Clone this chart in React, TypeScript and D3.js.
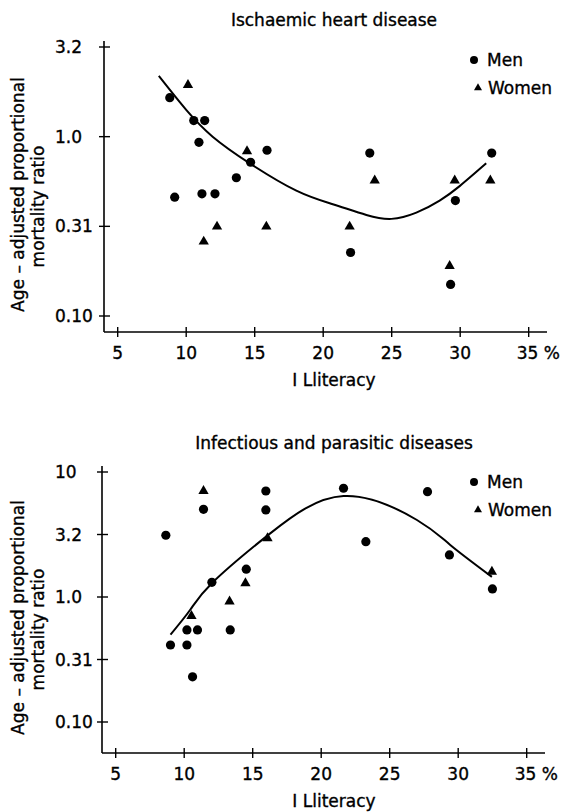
import React from "react";
import * as d3 from "d3";

// ---------- Data ----------
const xTicks = [5, 10, 15, 20, 25, 30, 35];

const ihdYTicks = [0.1, 0.3162, 1.0, 3.162];
const ihdYTickLabels = ["0.10", "0.31", "1.0", "3.2"];

const ihdMen: [number, number][] = [
  [8.8, 1.65], [10.55, 1.23], [11.35, 1.23], [10.93, 0.93], [15.9, 0.84],
  [14.7, 0.72], [13.66, 0.59], [9.16, 0.46], [11.15, 0.48], [12.1, 0.48],
  [22.0, 0.226], [23.4, 0.81], [29.65, 0.44], [29.3, 0.15], [32.3, 0.81],
];
const ihdWomen: [number, number][] = [
  [10.13, 1.94], [14.44, 0.83], [12.25, 0.315], [15.85, 0.315], [11.28, 0.26],
  [21.93, 0.315], [23.76, 0.57], [29.6, 0.57], [29.23, 0.19], [32.2, 0.57],
];
const ihdCurve: [number, number][] = [
  [8.0, 2.18], [10.0, 1.41], [11.93, 1.0], [14.64, 0.71], [18.04, 0.5],
  [20.7, 0.42], [23.15, 0.366], [24.98, 0.348], [26.8, 0.377], [28.5, 0.44],
  [29.96, 0.53], [31.9, 0.71],
];

const infYTicks = [0.1, 0.3162, 1.0, 3.162, 10];
const infYTickLabels = ["0.10", "0.31", "1.0", "3.2", "10"];

const infMen: [number, number][] = [
  [15.96, 7.05], [11.41, 5.03], [15.96, 4.97], [8.66, 3.12], [14.53, 1.67],
  [12.02, 1.31], [10.2, 0.545], [10.97, 0.545], [13.36, 0.545], [9.0, 0.413],
  [10.2, 0.413], [10.61, 0.23], [21.63, 7.41], [27.76, 6.96], [23.26, 2.77],
  [29.36, 2.17], [32.5, 1.16],
];
const infWomen: [number, number][] = [
  [11.41, 7.05], [16.08, 2.95], [14.47, 1.29], [13.31, 0.92], [10.53, 0.705],
  [32.46, 1.59],
];
const infCurve: [number, number][] = [
  [9.0, 0.5], [10.44, 0.79], [12.02, 1.29], [16.28, 3.23], [21.63, 6.43],
  [26.99, 4.13], [29.42, 2.61], [32.46, 1.45],
];

const FONT = "'DejaVu Sans', sans-serif";
const FS = 17;

type PanelProps = {
  title: string;
  titleY: number;
  axisX: number;
  axisTop: number;
  axisBottom: number;
  axisRight: number;
  yDomain: [number, number];
  yRange: [number, number];
  yTicks: number[];
  yTickLabels: string[];
  men: [number, number][];
  women: [number, number][];
  curve: [number, number][];
  legendY: number;
};

function Panel(p: PanelProps) {
  const x = d3.scaleLinear().domain([4, 36.3]).range([p.axisX, p.axisX + 442.5]);
  const y = d3.scaleLog().domain(p.yDomain).range(p.yRange);
  const line = d3
    .line<[number, number]>()
    .x((d) => x(d[0]))
    .y((d) => y(d[1]))
    .curve(d3.curveNatural);
  const tri = d3.symbol().type(d3.symbolTriangle).size(46)()!;
  const triSmall = d3.symbol().type(d3.symbolTriangle).size(28)()!;
  const cx = 334;
  return (
    <g fontFamily={FONT} fontSize={FS} fill="#000">
      <g stroke="#000" strokeWidth={0.35}>
        <text x={cx} y={p.titleY} textAnchor="middle" dominantBaseline="central">
          {p.title}
        </text>
        {p.yTicks.map((t, i) => (
          <text key={"ytl" + i} x={55} y={y(t)} dominantBaseline="central">
            {p.yTickLabels[i]}
          </text>
        ))}
        {xTicks.map((t, i) =>
          i === xTicks.length - 1 ? (
            <text key={"xtl" + i} x={x(t) - 12} y={p.axisBottom + 21} dominantBaseline="central">
              {t + " %"}
            </text>
          ) : (
            <text key={"xtl" + i} x={x(t)} y={p.axisBottom + 21} textAnchor="middle" dominantBaseline="central">
              {t}
            </text>
          )
        )}
        <text x={cx} y={p.axisBottom + 48} textAnchor="middle" dominantBaseline="central">
          I Lliteracy
        </text>
        <g transform={`translate(0, ${(p.axisTop + p.axisBottom) / 2 + 8}) rotate(-90)`}>
          <text x={0} y={24} textAnchor="middle">
            Age – adjusted proportional
          </text>
          <text x={-12} y={44} textAnchor="middle">
            mortality ratio
          </text>
        </g>
        <text x={487} y={p.legendY} dominantBaseline="central">Men</text>
        <text x={488} y={p.legendY + 28} dominantBaseline="central">Women</text>
      </g>
      {/* axes */}
      <line x1={p.axisX} x2={p.axisX} y1={p.axisTop} y2={p.axisBottom} stroke="#000" strokeWidth={1.6} />
      <line x1={p.axisX} x2={p.axisRight} y1={p.axisBottom} y2={p.axisBottom} stroke="#000" strokeWidth={1.6} />
      {p.yTicks.map((t, i) => (
        <line key={"yt" + i} x1={p.axisX - 5} x2={p.axisX + 6} y1={y(t)} y2={y(t)} stroke="#000" strokeWidth={1.4} />
      ))}
      {xTicks.map((t, i) => (
        <line key={"xt" + i} x1={x(t)} x2={x(t)} y1={p.axisBottom - 5} y2={p.axisBottom + 5} stroke="#000" strokeWidth={1.4} />
      ))}
      {/* curve */}
      <path d={line(p.curve)!} fill="none" stroke="#000" strokeWidth={2} />
      {/* points */}
      {p.men.map((d, i) => (
        <circle key={"m" + i} cx={x(d[0])} cy={y(d[1])} r={4.6} fill="#000" />
      ))}
      {p.women.map((d, i) => (
        <path key={"w" + i} d={tri} transform={`translate(${x(d[0])},${y(d[1])})`} fill="#000" />
      ))}
      {/* legend markers */}
      <circle cx={474} cy={p.legendY} r={4} fill="#000" />
      <path d={triSmall} transform={`translate(478,${p.legendY + 28})`} fill="#000" />
    </g>
  );
}

export default function App() {
  return (
    <svg
      width={564}
      height={812}
      style={{ position: "absolute", left: 0, top: 0, background: "#fff" }}
    >
      <rect width={564} height={812} fill="#fff" />
      <Panel
        title="Ischaemic heart disease"
        titleY={20}
        axisX={104}
        axisTop={41}
        axisBottom={332}
        axisRight={547}
        yDomain={[0.1, 3.162]}
        yRange={[316, 47]}
        yTicks={ihdYTicks}
        yTickLabels={ihdYTickLabels}
        men={ihdMen}
        women={ihdWomen}
        curve={ihdCurve}
        legendY={60}
      />
      <Panel
        title="Infectious and parasitic diseases"
        titleY={443}
        axisX={102}
        axisTop={466}
        axisBottom={753}
        axisRight={545}
        yDomain={[0.1, 10]}
        yRange={[722, 472]}
        yTicks={infYTicks}
        yTickLabels={infYTickLabels}
        men={infMen}
        women={infWomen}
        curve={infCurve}
        legendY={482}
      />
    </svg>
  );
}
